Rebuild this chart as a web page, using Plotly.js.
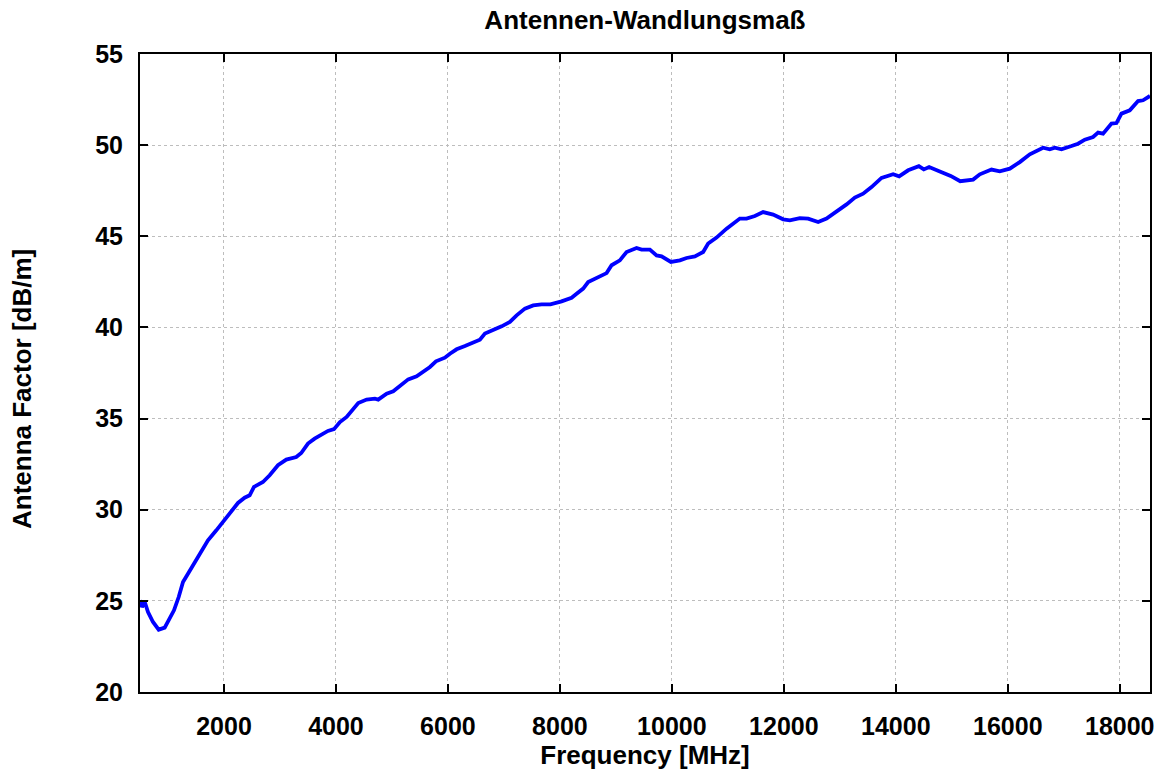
<!DOCTYPE html>
<html>
<head>
<meta charset="utf-8">
<script src="https://cdn.plot.ly/plotly-3.0.1.min.js"></script>
<style>html,body{margin:0;padding:0;background:#fff;}#chart{width:1169px;height:772px;}</style>
</head>
<body>
<div id="chart"></div>
<script>
const chartTitle = "Antennen-Wandlungsmaß";
const xLabel = "Frequency [MHz]";
const yLabel = "Antenna Factor [dB/m]";
const xTicks = [2000,4000,6000,8000,10000,12000,14000,16000,18000];
const yTicks = [20,25,30,35,40,45,50,55];

const freq = [500,536,584,643,732,834,941,1030,1107,1191,1268,1357,1446,1566,1714,1863,2012,2130,2250,2369,2459,2536,2696,2816,2964,3113,3291,3380,3500,3619,3738,3857,3965,4071,4191,4280,4398,4548,4696,4755,4905,5023,5143,5291,5441,5559,5679,5786,5946,6036,6155,6304,6452,6571,6661,6809,6959,7107,7227,7375,7523,7673,7830,8030,8209,8298,8416,8505,8655,8834,8923,9071,9191,9369,9459,9607,9727,9816,9982,10143,10262,10411,10559,10648,10798,10977,11214,11334,11482,11630,11809,11988,12107,12286,12434,12613,12762,13000,13120,13268,13416,13566,13745,13952,14059,14220,14411,14500,14595,14786,14980,15150,15381,15500,15709,15857,16036,16214,16393,16630,16750,16839,16959,17137,17255,17375,17523,17613,17702,17852,17941,18030,18179,18327,18416,18540];
const factor = [25.03,24.66,24.94,24.39,23.84,23.42,23.53,24.03,24.48,25.21,26.03,26.49,26.95,27.59,28.32,28.87,29.42,29.87,30.37,30.66,30.79,31.25,31.52,31.89,32.44,32.75,32.89,33.11,33.63,33.90,34.12,34.32,34.42,34.81,35.09,35.45,35.85,36.04,36.09,36.04,36.37,36.50,36.82,37.15,37.32,37.55,37.83,38.14,38.34,38.56,38.80,38.98,39.17,39.33,39.66,39.84,40.06,40.30,40.66,41.03,41.21,41.27,41.27,41.43,41.63,41.85,42.13,42.49,42.73,42.98,43.41,43.68,44.14,44.36,44.27,44.27,43.95,43.90,43.59,43.68,43.81,43.90,44.14,44.60,44.93,45.42,45.97,45.97,46.11,46.33,46.19,45.93,45.87,46.00,45.97,45.78,45.97,46.46,46.75,47.12,47.34,47.70,48.20,48.40,48.29,48.62,48.85,48.67,48.80,48.56,48.31,48.02,48.11,48.40,48.66,48.56,48.71,49.07,49.50,49.86,49.77,49.86,49.77,49.95,50.08,50.30,50.45,50.69,50.63,51.18,51.21,51.73,51.91,52.42,52.46,52.70];

const FONT = "Liberation Sans, Arial, sans-serif";
const fsz = 25;

const trace = {
  x: freq, y: factor, type: 'scatter', mode: 'lines',
  line: {color: '#0000ff', width: 3.8, shape: 'linear'},
  hoverinfo: 'skip', showlegend: false
};

const axisCommon = {
  showline: true, linecolor: '#000', linewidth: 2, mirror: 'ticks',
  ticks: 'inside', ticklen: 8, tickwidth: 2, tickcolor: '#000',
  showgrid: true, gridcolor: '#bdbdbd', griddash: 'dot', gridwidth: 1,
  zeroline: false,
  tickfont: {family: FONT, size: fsz, color: '#000', weight: 700}
};

const layout = {
  width: 1169, height: 772,
  paper_bgcolor: '#fff', plot_bgcolor: '#fff',
  margin: {l: 140, r: 19, t: 54, b: 80},
  title: {text: chartTitle, x: 0.5517, xanchor: 'center', y: 0.974, yanchor: 'middle',
          font: {family: FONT, size: 26, color: '#000', weight: 700}},
  xaxis: Object.assign({}, axisCommon, {
    range: [500, 18540], tickmode: 'array', tickvals: xTicks, ticktext: xTicks.map(String),
    ticklabelstandoff: 11,
    title: {text: xLabel, standoff: 2, font: {family: FONT, size: 26, color: '#000', weight: 700}}
  }),
  yaxis: Object.assign({}, axisCommon, {
    range: [20, 55], tickmode: 'array', tickvals: yTicks, ticktext: yTicks.map(String),
    ticklabelstandoff: 10
  }),
  annotations: [{
    text: yLabel, textangle: -90, showarrow: false,
    xref: 'paper', yref: 'paper', x: (22 - 140) / 1010, y: (692 - 389) / 638,
    xanchor: 'center', yanchor: 'middle',
    font: {family: FONT, size: 26, color: '#000', weight: 700}
  }]
};

Plotly.newPlot('chart', [trace], layout, {displayModeBar: false, staticPlot: true});
</script>
</body>
</html>
